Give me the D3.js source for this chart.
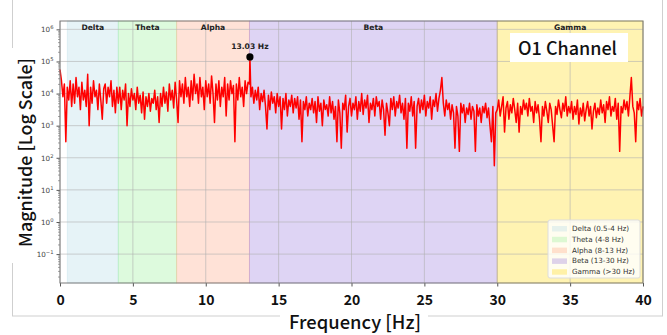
<!DOCTYPE html>
<html>
<head>
<meta charset="utf-8">
<script src="https://cdn.jsdelivr.net/npm/d3@7"></script>
<style>
  body { margin: 0; background: #fff; }
  svg { display: block; }
</style>
</head>
<body>
<div id="chart"></div>
<script>
// log10 magnitude, one value per 0.1 Hz
const freqStep = 0.1
const deltaLog = [ // 0.0 - 3.9 Hz
  4.75, 4.4, 3.9, 4.3, 2.5, 4.2, 3.8, 4.4, 3.6, 4.3,
  3.7, 4.5, 3.9, 4.2, 3.5, 4.35, 3.8, 4.1, 3.6, 4.6,
  3.0, 4.2, 3.7, 4.4, 3.9, 4.1, 3.5, 4.3, 3.8, 3.2,
  4.15, 4.3, 3.7, 4.2, 3.9, 4.4, 3.6, 4.1, 3.4, 4.2
]
const thetaLog = [ // 4.0 - 7.9 Hz
  3.7, 4.2, 3.5, 4.1, 3.8, 4.3, 3.0, 4.0, 3.6, 4.15,
  3.8, 4.0, 3.5, 4.2, 3.7, 3.95, 3.4, 4.05, 3.2, 3.9,
  3.6, 4.0, 3.45, 3.85, 3.7, 4.1, 3.5, 3.9, 3.1, 4.0,
  3.6, 4.2, 3.7, 4.05, 3.45, 4.3, 3.8, 4.1, 3.55, 4.35
]
const alphaLog = [ // 8.0 - 12.9 Hz
  3.8, 3.1, 4.4, 3.9, 4.3, 3.7, 4.5, 3.9, 4.2, 3.6,
  4.4, 3.8, 4.6, 4.0, 4.3, 3.7, 4.5, 3.9, 4.2, 3.5,
  4.4, 3.9, 4.3, 3.7, 4.55, 4.0, 3.1, 4.3, 3.8, 4.4,
  3.6, 4.2, 3.9, 4.5, 3.3, 4.3, 3.8, 4.4, 4.0, 4.25,
  2.5, 4.3, 3.8, 4.5, 3.9, 4.2, 3.6, 4.4, 4.0, 4.35
]
const betaLog = [ // 13.0 - 29.9 Hz
  4.3, 3.9, 4.2, 3.7, 4.1, 3.8, 4.2, 3.5, 4.0, 3.75,
  4.1, 3.6, 2.9, 3.95, 3.5, 4.05, 3.7, 3.9, 3.4, 4.0,
  3.6, 3.9, 2.9, 3.85, 3.5, 4.0, 3.3, 3.8, 3.6, 3.95,
  3.4, 3.85, 3.55, 3.9, 3.2, 3.8, 2.5, 3.75, 3.5, 3.9,
  3.3, 3.7, 3.5, 3.85, 3.4, 3.75, 3.1, 3.9, 3.45, 3.7,
  3.0, 3.8, 3.5, 3.65, 3.3, 3.9, 3.4, 3.75, 3.2, 3.6,
  2.5, 3.8, 3.4, 2.3, 3.7, 3.5, 3.95, 2.8, 3.6, 3.85,
  3.3, 3.7, 3.5, 3.9, 3.2, 3.75, 3.45, 4.0, 3.35, 3.8,
  3.55, 3.95, 3.1, 3.7, 3.5, 3.85, 3.3, 3.9, 3.6, 3.75,
  3.2, 3.8, 3.5, 2.7, 3.7, 3.4, 3.0, 3.85, 3.5, 3.9,
  3.3, 3.75, 3.55, 3.95, 3.4, 3.7, 3.2, 3.85, 2.3, 3.7,
  3.45, 3.9, 3.3, 3.75, 2.3, 3.6, 3.85, 3.4, 3.8, 3.5,
  3.95, 3.3, 3.75, 3.55, 3.9, 3.2, 3.8, 3.6, 4.0, 3.45,
  3.85, 4.1, 4.5, 3.7, 3.3, 3.8, 3.5, 3.7, 3.2, 3.65,
  3.4, 2.3, 3.6, 3.3, 2.2, 3.7, 3.4, 3.65, 3.1, 3.55,
  3.35, 3.7, 3.2, 3.6, 3.45, 2.2, 3.65, 3.3, 3.55, 3.1,
  3.6, 3.4, 3.7, 3.25, 3.55, 3.0, 2.5, 3.6, 1.75, 3.4
]
const gammaLog = [ // 30.0 - 40.0 Hz
  3.5, 3.8, 3.3, 3.6, 3.9, 2.8, 3.55, 3.75, 3.2, 3.65,
  3.4, 3.85, 3.5, 3.1, 3.7, 2.8, 3.6, 3.35, 3.8, 3.5,
  3.7, 3.3, 3.85, 3.45, 3.6, 3.1, 3.75, 3.4, 3.65, 3.2,
  2.5, 3.6, 3.3, 3.75, 3.45, 3.1, 3.7, 3.5, 3.0, 2.5,
  3.6, 3.35, 3.8, 3.5, 3.25, 3.7, 3.45, 3.9, 3.3, 3.6,
  3.4, 3.75, 3.2, 3.6, 3.35, 3.8, 3.05, 3.55, 3.3, 3.7,
  3.15, 3.5, 3.75, 3.3, 3.6, 2.9, 3.45, 3.7, 3.25, 3.55,
  3.35, 3.8, 3.4, 3.65, 3.1, 3.75, 3.5, 3.9, 3.3, 3.6,
  3.45, 3.85, 3.2, 3.7, 2.2, 3.6, 3.4, 3.8, 3.5, 3.75,
  3.3, 3.9, 4.5, 3.6, 3.4, 2.5, 3.75, 3.5, 3.85, 3.3,
  3.6
]
const peakFreq = 13.03
const peakMag = 1.38e5

const bandNames = ["Delta", "Theta", "Alpha", "Beta", "Gamma"]
const bandLegend = ["Delta (0.5-4 Hz)", "Theta (4-8 Hz)", "Alpha (8-13 Hz)", "Beta (13-30 Hz)", "Gamma (>30 Hz)"]
const bandFrom = [0.5, 4, 8, 13, 30]
const bandTo = [4, 8, 13, 30, 40]
const bandColors = ["lightblue", "lightgreen", "lightsalmon", "mediumpurple", "gold"]

const xTicks = [0, 5, 10, 15, 20, 25, 30, 35, 40]
const yExponents = [-1, 0, 1, 2, 3, 4, 5, 6]

const W = 667, H = 335
const svg = d3.select("#chart").append("svg").attr("width", W).attr("height", H)

const x = d3.scaleLinear().domain([0, 40]).range([60, 643])
const y = d3.scaleLog().domain([Math.pow(10, -1.9), Math.pow(10, 6.26)]).range([283, 21])

// series
const logs = deltaLog.concat(thetaLog, alphaLog, betaLog, gammaLog)
const series = logs.map((v, i) => ({ f: +(i * freqStep).toFixed(2), v: Math.pow(10, v) }))
series.push({ f: peakFreq, v: peakMag })
series.sort((a, b) => a.f - b.f)

// outer figure frame
svg.append("rect")
  .attr("x", 12.5).attr("y", -1).attr("width", 650).attr("height", 317)
  .attr("fill", "#fff").attr("stroke", "#cfcfcf")

const plot = svg.append("g")
const [x0, x1] = x.range()
const [yb, yt] = y.range()

plot.append("rect")
  .attr("x", x0).attr("y", yt).attr("width", x1 - x0).attr("height", yb - yt)
  .attr("fill", "#fff")

// band spans
plot.append("g").selectAll("rect")
  .data(bandNames)
  .join("rect")
    .attr("x", (d, i) => x(bandFrom[i]))
    .attr("y", yt)
    .attr("width", (d, i) => x(bandTo[i]) - x(bandFrom[i]))
    .attr("height", yb - yt)
    .attr("fill", (d, i) => bandColors[i])
    .attr("fill-opacity", 0.3)
    .attr("stroke", (d, i) => bandColors[i])
    .attr("stroke-opacity", 0.3)

// grid
const grid = plot.append("g").attr("stroke", "#b0b0b0").attr("stroke-opacity", 0.75).attr("stroke-width", 0.8)
grid.selectAll(".gx").data(xTicks).join("line")
  .attr("x1", d => x(d)).attr("x2", d => x(d)).attr("y1", yt).attr("y2", yb)
grid.selectAll(".gy").data(yExponents).join("line")
  .attr("x1", x0).attr("x2", x1)
  .attr("y1", d => y(Math.pow(10, d))).attr("y2", d => y(Math.pow(10, d)))

// band names
plot.append("g").selectAll("text")
  .data(bandNames)
  .join("text")
    .attr("x", (d, i) => x((bandFrom[i] + bandTo[i]) / 2))
    .attr("y", 29.5)
    .attr("text-anchor", "middle")
    .attr("font-family", "DejaVu Sans")
    .attr("font-weight", "bold")
    .attr("font-size", 7.6)
    .attr("fill", "#222")
    .text(d => d)

// spectrum
const line = d3.line().x(d => x(d.f)).y(d => y(d.v))
plot.append("path")
  .datum(series)
  .attr("fill", "none")
  .attr("stroke", "#ff0000")
  .attr("stroke-width", 1.5)
  .attr("stroke-linejoin", "round")
  .attr("d", line)

// peak
plot.append("circle")
  .attr("cx", x(peakFreq)).attr("cy", y(peakMag)).attr("r", 3.6)
  .attr("fill", "#000")
plot.append("text")
  .attr("x", x(peakFreq)).attr("y", y(peakMag) - 8)
  .attr("text-anchor", "middle")
  .attr("font-family", "DejaVu Sans")
  .attr("font-weight", "bold")
  .attr("font-size", 7.6)
  .attr("fill", "#222")
  .text(peakFreq.toFixed(2) + " Hz")

// axes
const xAxis = plot.append("g")
  .attr("transform", `translate(0,${yb})`)
  .call(d3.axisBottom(x).tickValues(xTicks).tickSize(3.5).tickPadding(9).tickFormat(d3.format("d")))
xAxis.select(".domain").remove()
xAxis.selectAll("line").attr("stroke", "#555")
xAxis.selectAll("text")
  .attr("font-family", "Noto Sans CJK JP")
  .attr("font-weight", 700)
  .attr("font-size", 14)
  .attr("fill", "#111")

const yAxis = plot.append("g")
  .attr("transform", `translate(${x0},0)`)
  .call(d3.axisLeft(y).tickValues(yExponents.map(e => Math.pow(10, e))).tickSize(3.5).tickPadding(3).tickFormat(""))
yAxis.select(".domain").remove()
yAxis.selectAll("line").attr("stroke", "#555")
yAxis.selectAll(".tick text").each(function (d) {
  const t = d3.select(this)
  const e = Math.round(Math.log10(d))
  t.attr("font-family", "DejaVu Sans").attr("font-size", 7.2).attr("fill", "#444")
  t.append("tspan").text("10")
  t.append("tspan").attr("dy", -3).attr("font-size", 5.2).text(e < 0 ? "\u2212" + (-e) : e)
})

const minor = []
for (let e = -2; e <= 6; e++) for (let m = 2; m <= 9; m++) {
  const v = m * Math.pow(10, e)
  if (v > y.domain()[0] && v < y.domain()[1]) minor.push(v)
}
const yMinor = plot.append("g")
  .attr("transform", `translate(${x0},0)`)
  .call(d3.axisLeft(y).tickValues(minor).tickSize(2).tickFormat(""))
yMinor.select(".domain").remove()
yMinor.selectAll("line").attr("stroke", "#666").attr("stroke-width", 0.6)

// spines
plot.append("rect")
  .attr("x", x0).attr("y", yt).attr("width", x1 - x0).attr("height", yb - yt)
  .attr("fill", "none").attr("stroke", "#7a7a7a").attr("stroke-width", 1)

// legend
const lg = plot.append("g").attr("transform", "translate(548,220)")
lg.append("rect")
  .attr("width", 92).attr("height", 58).attr("rx", 2)
  .attr("fill", "#fff").attr("fill-opacity", 0.8).attr("stroke", "#ddd")
const rows = lg.selectAll("g.row").data(bandLegend).join("g")
  .attr("transform", (d, i) => `translate(0,${6 + i * 10.8})`)
rows.append("rect")
  .attr("x", 4).attr("width", 15).attr("height", 5.5)
  .attr("fill", (d, i) => bandColors[i]).attr("fill-opacity", 0.3)
rows.append("text")
  .attr("x", 24).attr("y", 5)
  .attr("font-family", "DejaVu Sans")
  .attr("font-size", 7.2)
  .attr("fill", "#333")
  .text(d => d)

// outer labels on white boxes
function fit(sel, w) {
  const len = sel.node().getComputedTextLength()
  sel.attr("font-size", parseFloat(sel.attr("font-size")) * w / len)
}

svg.append("rect").attr("x", 510).attr("y", 33).attr("width", 118).attr("height", 29).attr("fill", "#fff")
const chan = svg.append("text")
  .attr("x", 567.5).attr("y", 54.5)
  .attr("text-anchor", "middle")
  .attr("font-family", "Noto Sans CJK JP")
  .attr("font-weight", 500)
  .attr("font-size", 19)
  .attr("fill", "#111")
  .text("O1 Channel")
fit(chan, 99)

svg.append("rect").attr("x", 8).attr("y", 48).attr("width", 28).attr("height", 215).attr("fill", "#fff")
const ylab = svg.append("text")
  .attr("transform", "translate(32,152.5) rotate(-90)")
  .attr("text-anchor", "middle")
  .attr("font-family", "Noto Sans CJK JP")
  .attr("font-weight", 500)
  .attr("font-size", 19)
  .attr("fill", "#111")
  .text("Magnitude [Log Scale]")
fit(ylab, 189)

svg.append("rect").attr("x", 280).attr("y", 312).attr("width", 148).attr("height", 23).attr("fill", "#fff")
const xlab = svg.append("text")
  .attr("x", 355).attr("y", 329)
  .attr("text-anchor", "middle")
  .attr("font-family", "Noto Sans CJK JP")
  .attr("font-weight", 500)
  .attr("font-size", 19)
  .attr("fill", "#111")
  .text("Frequency [Hz]")
fit(xlab, 132)
</script>
</body>
</html>
